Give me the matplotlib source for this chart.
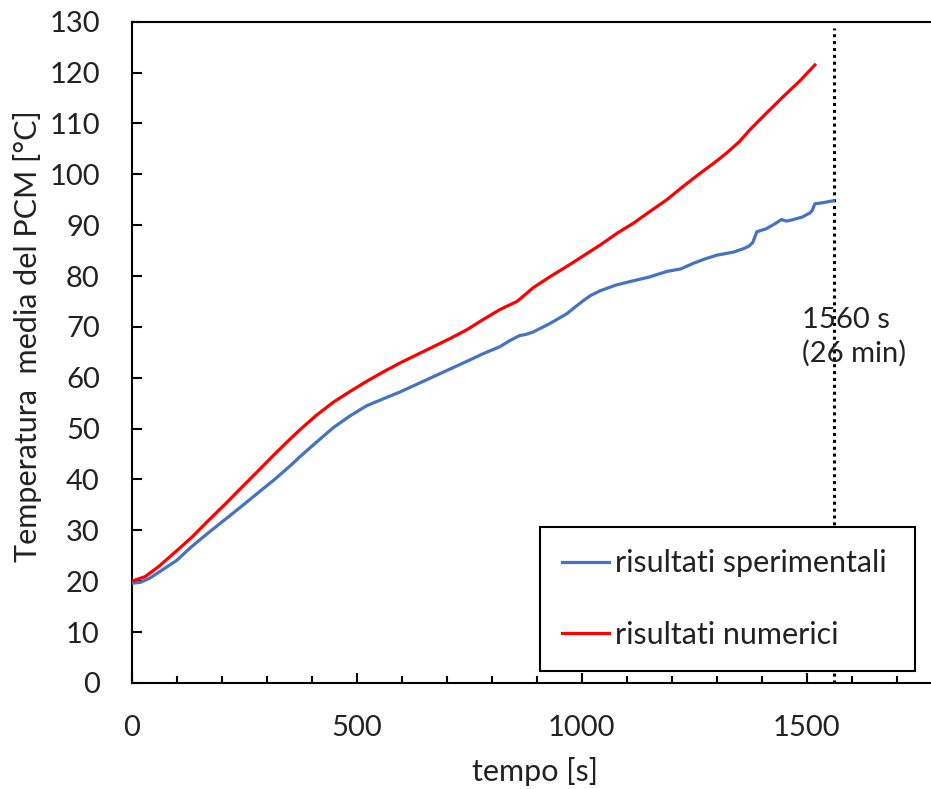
import matplotlib
matplotlib.use("Agg")
import matplotlib.pyplot as plt
from matplotlib.ticker import MultipleLocator

# Experimental (measured) mean PCM temperature
t_exp = [0, 20, 40, 59, 100, 133, 170, 207, 245, 281, 320, 356, 374, 410, 448, 485, 522,
         560, 596, 633, 670, 707, 744, 780, 818, 840, 862, 875, 892, 930, 967, 985, 1004,
         1020, 1041, 1075, 1107, 1150, 1189, 1220, 1248, 1275, 1300, 1337, 1360, 1372,
         1380, 1389, 1410, 1426, 1444, 1455, 1470, 1490, 1507, 1512, 1518, 1535, 1559]
T_exp = [19.6, 19.8, 20.6, 21.7, 24.1, 26.8, 29.5, 32.1, 34.8, 37.4, 40.2, 43.0, 44.5,
         47.3, 50.2, 52.5, 54.5, 55.9, 57.2, 58.7, 60.2, 61.7, 63.2, 64.7, 66.1, 67.3,
         68.3, 68.5, 69.0, 70.7, 72.6, 73.9, 75.2, 76.2, 77.1, 78.2, 78.9, 79.8, 80.9,
         81.4, 82.5, 83.4, 84.1, 84.7, 85.4, 85.9, 86.6, 88.7, 89.3, 90.1, 91.1, 90.8,
         91.1, 91.6, 92.4, 92.9, 94.2, 94.4, 94.8]

# Numerical model results
t_num = [0, 30, 60, 100, 133, 170, 207, 245, 281, 320, 356, 374, 410, 448, 485, 522, 560,
         596, 633, 670, 707, 744, 780, 818, 856, 875, 892, 930, 967, 1004, 1041, 1080,
         1115, 1150, 1189, 1225, 1263, 1295, 1322, 1350, 1374, 1410, 1448, 1485, 1518]
T_num = [20.0, 20.9, 22.9, 26.0, 28.6, 31.9, 35.1, 38.5, 41.7, 45.2, 48.3, 49.8, 52.6,
         55.2, 57.3, 59.3, 61.2, 62.9, 64.5, 66.1, 67.7, 69.4, 71.4, 73.4, 75.0, 76.4,
         77.7, 79.9, 81.9, 84.0, 86.1, 88.5, 90.4, 92.6, 95.0, 97.6, 100.2, 102.3, 104.2,
         106.4, 108.8, 112.0, 115.3, 118.4, 121.5]

t_mark = 1560
mark_label = "1560 s\n(26 min)"

label_exp = "risultati sperimentali"
label_num = "risultati numerici"

FONT = "Lato"
TXT = "#222222"
plt.rcParams["font.family"] = [FONT, "DejaVu Sans"]

fig = plt.figure(figsize=(9.31, 7.89), dpi=100)
ax = fig.add_axes([0.1415, 0.1344, 1 - 0.1415, 0.9725 - 0.1344])

# dotted marker at the end of the test
ax.plot([t_mark, t_mark], [0, 128.8], color="black", lw=2.2,
        linestyle=(0, (1, 1.25)), zorder=1)

ax.plot(t_exp, T_exp, color="#4472C4", lw=2.3, label=label_exp, zorder=3)
ax.plot(t_num, T_num, color="#FF0000", lw=2.3, label=label_num, zorder=3)

ax.set_xlim(0, 1776)
ax.set_ylim(0, 130)
ax.xaxis.set_major_locator(MultipleLocator(500))
ax.xaxis.set_minor_locator(MultipleLocator(100))
ax.yaxis.set_major_locator(MultipleLocator(10))

for s in ["left", "bottom", "top"]:
    ax.spines[s].set_linewidth(1.5)
    ax.spines[s].set_color("black")
ax.spines["right"].set_visible(False)

ax.tick_params(axis="both", which="both", direction="in", colors="black",
               labelcolor=TXT, labelsize=21, width=1.5)
ax.tick_params(axis="y", which="major", length=7.5, pad=23)
ax.tick_params(axis="x", which="major", length=7.5, pad=23)
ax.tick_params(axis="x", which="minor", length=5)
ax.tick_params(top=False, right=False)

ax.text(1489, 63.2, mark_label, fontsize=21, color=TXT, ha="left",
        va="baseline", linespacing=1.28, zorder=4)

fig.text(535 / 931, 1 - 772 / 789, "tempo [s]", fontsize=22, color=TXT,
         ha="center", va="center")
fig.text(28 / 931, 1 - 336 / 789, "Temperatura  media del PCM [°C]", fontsize=22,
         color=TXT, ha="center", va="center", rotation=90)

x0 = (540 - 131.7) / 799.3
x1 = (915 - 131.7) / 799.3
y0 = (683 - 671) / 661.3
y1 = (683 - 528) / 661.3
leg = ax.legend(loc="lower left", bbox_to_anchor=(x0, y0, x1 - x0, y1 - y0),
                mode="expand", borderaxespad=0, fontsize=22, frameon=True,
                fancybox=False, framealpha=1, edgecolor="black",
                handlelength=1.54, handletextpad=0.2, labelspacing=1.42,
                borderpad=0.73)
leg.get_frame().set_linewidth(1.5)
for txt in leg.get_texts():
    txt.set_color(TXT)
leg.set_zorder(5)

fig.savefig("out.png", dpi=100)
